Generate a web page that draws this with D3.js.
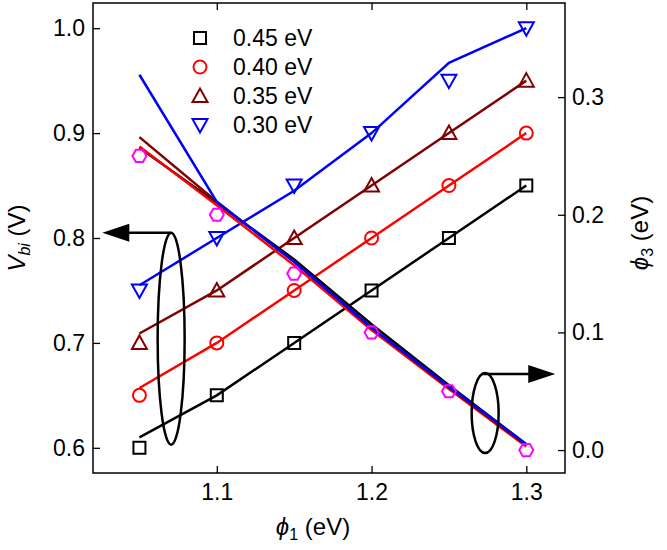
<!DOCTYPE html>
<html>
<head>
<meta charset="utf-8">
<script src="https://cdn.jsdelivr.net/npm/d3@7"></script>
<style>
body { margin: 0; background: #fff; }
text { font-family: "Liberation Sans", Arial, Helvetica, sans-serif; }
</style>
</head>
<body>
<svg id="chart" width="667" height="550"></svg>
<script>
var phi1 = [1.05, 1.10, 1.15, 1.20, 1.25, 1.30];
var seriesNames = ["0.45 eV", "0.40 eV", "0.35 eV", "0.30 eV"];
var seriesColors = ["#000000", "#ff0000", "#800000", "#0000ff"];
var seriesShapes = ["square", "circle", "triangle", "triangleDown"];
// measured Vbi (markers)
var vbiMeasured = [
  [0.60, 0.65, 0.70, 0.75, 0.80, 0.85],
  [0.65, 0.70, 0.75, 0.80, 0.85, 0.90],
  [0.70, 0.75, 0.80, 0.85, 0.90, 0.95],
  [0.75, 0.80, 0.85, 0.90, 0.95, 1.00]
];
// Vbi curves
var vbiModel = [
  [0.610, 0.650, 0.700, 0.750, 0.800, 0.850],
  [0.657, 0.700, 0.750, 0.800, 0.850, 0.900],
  [0.709, 0.750, 0.800, 0.850, 0.900, 0.950],
  [0.755, 0.800, 0.845, 0.900, 0.967, 1.000]
];
// phi3 curves (right axis)
var phi3Model = [
  [0.257, 0.210, 0.162, 0.107, 0.055, 0.005],
  [0.258, 0.208, 0.157, 0.102, 0.052, 0.003],
  [0.266, 0.211, 0.160, 0.104, 0.053, 0.004],
  [0.319, 0.211, 0.160, 0.104, 0.054, 0.005]
];
var phi3Measured = [0.25, 0.20, 0.15, 0.10, 0.05, 0.00];
var xTicks = [1.1, 1.2, 1.3];
var vbiTicks = [0.6, 0.7, 0.8, 0.9, 1.0];
var phi3Ticks = [0.0, 0.1, 0.2, 0.3];

var svg, x, y, y2, plotL, plotR, plotT, plotB, fmt, line, markerPath, draw;

plotL = 93; plotR = 565; plotT = 3; plotB = 473;
svg = d3.select("#chart");
x = d3.scaleLinear().domain([1.02, 1.325]).range([plotL, plotR]);
y = d3.scaleLinear().domain([0.576, 1.024]).range([plotB, plotT]);
y2 = d3.scaleLinear().domain([-0.0195, 0.38]).range([plotB, plotT]);
fmt = d3.format(".1f");

markerPath = function(shape) {
  switch (shape) {
    case "square": return "M-6,-6H6V6H-6Z";
    case "circle": return "M6.5,0A6.5,6.5 0 1,1 -6.5,0A6.5,6.5 0 1,1 6.5,0Z";
    case "triangle": return "M0,-7.5L7.5,6L-7.5,6Z";
    case "triangleDown": return "M0,7.5L7.5,-6L-7.5,-6Z";
    case "hexagon":
      return "M7,0L3.5,6.1L-3.5,6.1L-7,0L-3.5,-6.1L3.5,-6.1Z";
  }
};

draw = function() {
  var g, styleAxis, lx, ly, t, ann;

  styleAxis = function(sel) {
    sel.select(".domain").remove();
    sel.selectAll("line").attr("stroke", "#000").attr("stroke-width", 1.3);
    sel.selectAll("text").attr("font-size", 23).attr("fill", "#000")
      .attr("font-family", "'Liberation Sans', Arial, sans-serif");
  };

  svg.append("g").attr("transform", "translate(" + plotL + ",0)")
    .call(d3.axisLeft(y).tickValues(vbiTicks).tickFormat(fmt).tickSizeInner(-7).tickSizeOuter(0).tickPadding(8))
    .call(styleAxis);
  svg.append("g").attr("transform", "translate(" + plotR + ",0)")
    .call(d3.axisRight(y2).tickValues(phi3Ticks).tickFormat(fmt).tickSizeInner(-7).tickSizeOuter(0).tickPadding(7))
    .call(styleAxis);
  svg.append("g").attr("transform", "translate(0," + plotB + ")")
    .call(d3.axisBottom(x).tickValues(xTicks).tickFormat(fmt).tickSizeInner(-7).tickSizeOuter(0).tickPadding(11))
    .call(styleAxis);
  svg.append("g").attr("transform", "translate(0," + plotT + ")")
    .call(d3.axisTop(x).tickValues(xTicks).tickFormat("").tickSizeInner(-7).tickSizeOuter(0))
    .call(styleAxis);

  svg.append("rect").attr("x", plotL).attr("y", plotT)
    .attr("width", plotR - plotL).attr("height", plotB - plotT)
    .attr("fill", "none").attr("stroke", "#000").attr("stroke-width", 1.5);

  g = svg.append("g");
  line = d3.line().x(function(d) { return x(d[0]); }).y(function(d) { return d[1]; });

  // Vbi curves
  vbiModel.forEach(function(vals, s) {
    g.append("path")
      .attr("d", line(phi1.map(function(p, i) { return [p, y(vals[i])]; })))
      .attr("fill", "none").attr("stroke", seriesColors[s]).attr("stroke-width", 2.5);
  });
  // phi3 curves
  phi3Model.forEach(function(vals, s) {
    g.append("path")
      .attr("d", line(phi1.map(function(p, i) { return [p, y2(vals[i])]; })))
      .attr("fill", "none").attr("stroke", seriesColors[s]).attr("stroke-width", 2.5);
  });

  // markers
  phi3Measured.forEach(function(v, i) {
    g.append("path").attr("d", markerPath("hexagon"))
      .attr("transform", "translate(" + x(phi1[i]) + "," + y2(v) + ")")
      .attr("fill", "none").attr("stroke", "#ff00ff").attr("stroke-width", 2);
  });
  vbiMeasured.forEach(function(vals, s) {
    vals.forEach(function(v, i) {
      g.append("path").attr("d", markerPath(seriesShapes[s]))
        .attr("transform", "translate(" + x(phi1[i]) + "," + y(v) + ")")
        .attr("fill", "none").attr("stroke", seriesColors[s]).attr("stroke-width", 2);
    });
  });

  // legend
  lx = 200; ly = 38;
  seriesNames.forEach(function(name, s) {
    var yy = ly + s * 29;
    svg.append("path").attr("d", markerPath(seriesShapes[s]))
      .attr("transform", "translate(" + lx + "," + yy + ")")
      .attr("fill", "none").attr("stroke", seriesColors[s]).attr("stroke-width", 2);
    svg.append("text").attr("x", lx + 33).attr("y", yy).attr("dy", "0.35em")
      .attr("font-size", 23).text(name);
  });

  // annotations: ellipses with arrows pointing at the axis
  ann = svg.append("g").attr("stroke", "#000").attr("stroke-width", 2.5).attr("fill", "none");
  ann.append("ellipse").attr("cx", x(1.0705)).attr("cy", y(0.704))
    .attr("rx", 13.5).attr("ry", y(0.603) - y(0.704));
  ann.append("line").attr("x1", x(1.0705)).attr("y1", y(0.805))
    .attr("x2", x(1.026) + 25).attr("y2", y(0.805));
  ann.append("path").attr("fill", "#000").attr("stroke", "none")
    .attr("d", "M" + x(1.026) + "," + y(0.805) + "l27,-9v18Z");

  ann.append("ellipse").attr("cx", x(1.2734)).attr("cy", y2(0.0314))
    .attr("rx", 13.5).attr("ry", y2(-0.0026) - y2(0.0314));
  ann.append("line").attr("x1", x(1.2734) - 3).attr("y1", y2(0.0646))
    .attr("x2", x(1.3187) - 25).attr("y2", y2(0.0646));
  ann.append("path").attr("fill", "#000").attr("stroke", "none")
    .attr("d", "M" + x(1.3187) + "," + y2(0.0646) + "l-27,-9v18Z");

  // axis titles
  t = svg.append("text").attr("transform", "translate(25,238) rotate(-90)")
    .attr("text-anchor", "middle").attr("font-size", 24);
  t.append("tspan").attr("font-style", "italic").text("V");
  t.append("tspan").attr("font-style", "italic").attr("font-size", 16).attr("dy", 5).text("bi");
  t.append("tspan").attr("dy", -5).text(" (V)");

  t = svg.append("text").attr("transform", "translate(648,233) rotate(-90)")
    .attr("text-anchor", "middle").attr("font-size", 24);
  t.append("tspan").attr("font-style", "italic").text("\u03d5");
  t.append("tspan").attr("font-size", 16).attr("dy", 5).text("3");
  t.append("tspan").attr("dy", -5).text(" (eV)");

  t = svg.append("text").attr("transform", "translate(313,535)")
    .attr("text-anchor", "middle").attr("font-size", 24);
  t.append("tspan").attr("font-style", "italic").text("\u03d5");
  t.append("tspan").attr("font-size", 16).attr("dy", 5).text("1");
  t.append("tspan").attr("dy", -5).text(" (eV)");
};

draw();
</script>
</body>
</html>
